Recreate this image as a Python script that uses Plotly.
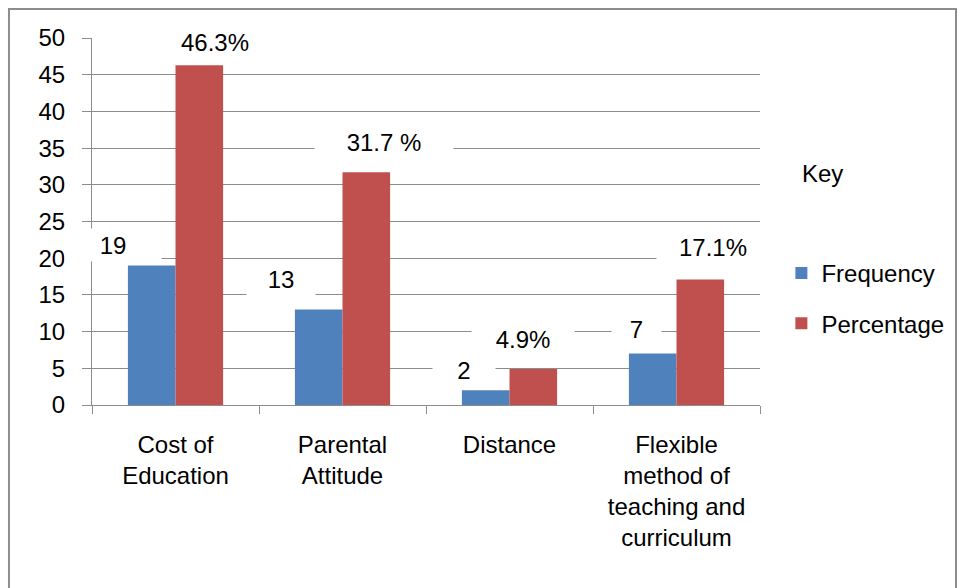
import plotly.graph_objects as go

categories = ["Cost of<br>Education", "Parental<br>Attitude", "Distance",
              "Flexible<br>method of<br>teaching and<br>curriculum"]
frequency = [19, 13, 2, 7]
percentage = [46.3, 31.7, 4.9, 17.1]
freq_labels = ["19", "13", "2", "7"]
pct_labels = ["46.3%", "31.7 %", "4.9%", "17.1%"]
y_ticks = [0, 5, 10, 15, 20, 25, 30, 35, 40, 45, 50]

# label placement (pixel shifts from category centre, y in axis units, box width)
freq_label_pos = [(-63, 21.8, 94), (-62, 17.2, 66), (-46, 4.8, 60), (-40, 10.4, 47)]
pct_label_pos = [(39, 49.5, 118), (41, 35.8, 136), (13, 9.0, 100), (36, 21.5, 110)]

FONT = "Liberation Sans, Arial, sans-serif"
BLUE = "#4F81BD"
RED = "#C0504D"
GRID = "#8C8C8C"

fig = go.Figure()
fig.add_trace(go.Bar(x=categories, y=frequency, name="Frequency",
                     marker=dict(color=BLUE, line=dict(width=0)), legendgroup="a"))
fig.add_trace(go.Bar(x=categories, y=percentage, name="Percentage",
                     marker=dict(color=RED, line=dict(width=0)), legendgroup="b"))

annotations = []
for cat, lab, (dx, yv, w) in zip(categories, freq_labels, freq_label_pos):
    annotations.append(dict(x=cat, y=yv, xref="x", yref="y", text=lab, showarrow=False,
                            xshift=dx, bgcolor="white", width=w, height=30,
                            font=dict(size=24, color="black", family=FONT)))
for cat, lab, (dx, yv, w) in zip(categories, pct_labels, pct_label_pos):
    annotations.append(dict(x=cat, y=yv, xref="x", yref="y", text=lab, showarrow=False,
                            xshift=dx, bgcolor="white", width=w, height=30,
                            font=dict(size=24, color="black", family=FONT)))
annotations.append(dict(x=1.127, y=0.632, xref="paper", yref="paper", text="Key",
                        showarrow=False, font=dict(size=24, color="black", family=FONT)))

fig.update_layout(
    width=958, height=588,
    margin=dict(l=92, r=198, t=38, b=183, autoexpand=False),
    paper_bgcolor="white", plot_bgcolor="white",
    barmode="group", bargap=0.43, bargroupgap=0,
    font=dict(family=FONT, size=24, color="black"),
    showlegend=True,
    legend=dict(x=1.032, y=0.42, xanchor="left", yanchor="top",
                font=dict(size=24, color="black", family=FONT),
                tracegroupgap=16, bgcolor="rgba(0,0,0,0)"),
    annotations=annotations,
    shapes=[dict(type="rect", xref="paper", yref="paper",
                 x0=-0.1243, x1=1.2934, y0=-0.55, y1=1.079,
                 line=dict(color=GRID, width=2), fillcolor="rgba(0,0,0,0)", layer="below")],
)
fig.update_xaxes(range=[-0.5, 3.5], autorange=False, showgrid=False, showline=True,
                 linecolor=GRID, linewidth=1,
                 ticks="outside", tickson="boundaries", ticklen=8, tickcolor=GRID,
                 ticklabelstandoff=18,
                 tickfont=dict(size=24, color="black", family=FONT), zeroline=False)
fig.update_yaxes(range=[0, 50], autorange=False, tickvals=y_ticks, showgrid=True,
                 gridcolor=GRID, gridwidth=1,
                 showline=True, linecolor=GRID, linewidth=1, ticks="outside", ticklen=9,
                 tickcolor=GRID, ticklabelstandoff=12, zeroline=False,
                 tickfont=dict(size=24, color="black", family=FONT))

fig.write_html("out.html", config={"displayModeBar": False},
               post_script="document.body.style.margin='0';")
